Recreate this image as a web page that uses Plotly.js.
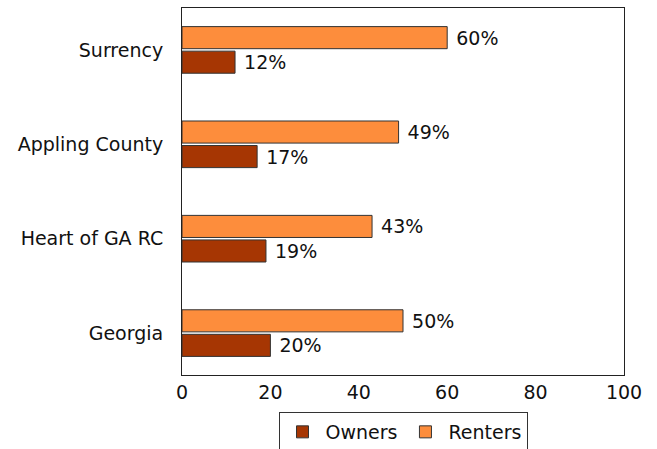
<!DOCTYPE html>
<html>
<head>
<meta charset="utf-8">
<script src="https://cdn.plot.ly/plotly-3.0.1.min.js"></script>
<style>html,body{margin:0;padding:0;background:#fff;}#chart{width:657px;height:449px;}</style>
</head>
<body>
<div id="chart"></div>
<script>
// Categories listed bottom-to-top
const categories = ["Georgia", "Heart of GA RC", "Appling County", "Surrency"];
const owners = [20, 19, 17, 12];
const renters = [50, 43, 49, 60];
const xTicks = [0, 20, 40, 60, 80, 100];

const FONT = "DejaVu Sans, sans-serif";
const FS = 19;

const traces = [
  {
    type: "bar", orientation: "h", name: "Owners",
    y: categories, x: owners,
    marker: {color: "#a63603", line: {color: "#333333", width: 1}},
    text: owners.map(v => " " + v + "%"), textposition: "outside",
    textfont: {family: FONT, size: FS, color: "#111"},
    cliponaxis: false
  },
  {
    type: "bar", orientation: "h", name: "Renters",
    y: categories, x: renters,
    marker: {color: "#fd8d3c", line: {color: "#333333", width: 1}},
    text: renters.map(v => " " + v + "%"), textposition: "outside",
    textfont: {family: FONT, size: FS, color: "#111"},
    cliponaxis: false
  }
];

const layout = {
  width: 657, height: 449,
  margin: {l: 182, r: 33, t: 8, b: 74},
  paper_bgcolor: "#fff", plot_bgcolor: "#fff",
  font: {family: FONT, size: FS, color: "#111"},
  barmode: "group", bargap: 0.48, bargroupgap: 0.1,
  showlegend: true,
  xaxis: {
    range: [0, 100], tickvals: xTicks, ticktext: xTicks.map(String),
    showgrid: false, zeroline: false,
    showline: true, linecolor: "#222", linewidth: 1, mirror: true,
    ticks: "", 
    tickfont: {family: FONT, size: FS, color: "#111"},
    automargin: false
  },
  yaxis: {
    type: "category", categoryorder: "array", categoryarray: categories,
    range: [-0.444, 3.444],
    showgrid: false, zeroline: false,
    showline: true, linecolor: "#222", linewidth: 1, mirror: true,
    ticks: "outside", ticklen: 14, tickcolor: "rgba(0,0,0,0)",
    tickfont: {family: FONT, size: FS, color: "#111"},
    automargin: false
  },
  legend: {
    orientation: "h", x: 0.5, xanchor: "center",
    yref: "container", y: 1 - 412 / 449, yanchor: "top",
    bordercolor: "#333", borderwidth: 1, bgcolor: "#fff",
    font: {family: FONT, size: FS, color: "#111"},
    itemwidth: 36, tracegroupgap: 0
  }
};

Plotly.newPlot("chart", traces, layout, {displayModeBar: false, staticPlot: true});
</script>
</body>
</html>
